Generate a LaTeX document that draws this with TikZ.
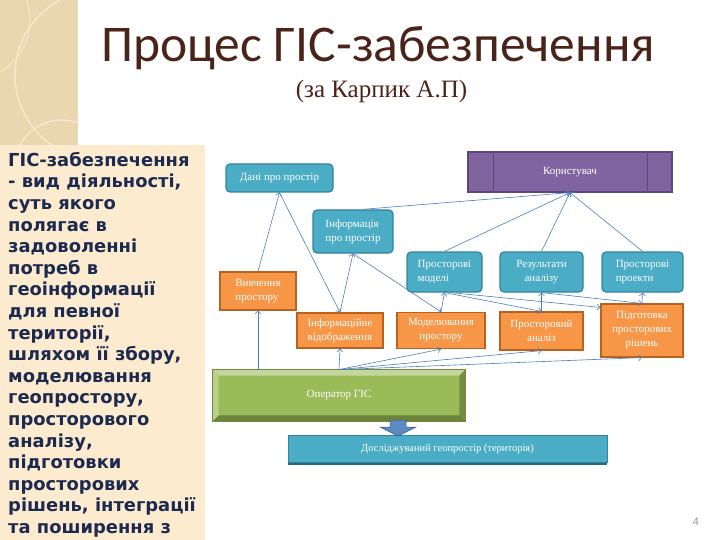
\documentclass[tikz,border=0pt]{standalone}
\usepackage{fontspec}
\setmainfont{Liberation Serif}
\newfontfamily\titlefont{Carlito}
\newfontfamily\boldsans{DejaVu Sans}
\newfontfamily\pagefont{Liberation Sans}
\usetikzlibrary{arrows.meta,calc}
\definecolor{tealF}{HTML}{4BACC6}
\definecolor{tealD}{HTML}{31849B}
\definecolor{orF}{HTML}{F79646}
\definecolor{orD}{HTML}{B7621E}
\definecolor{puF}{HTML}{8064A2}
\definecolor{puD}{HTML}{5C4776}
\definecolor{grF}{HTML}{9BBB59}
\definecolor{grD}{HTML}{71893F}
\definecolor{conn}{HTML}{4A7EBB}
\definecolor{titleC}{HTML}{4A2419}
\definecolor{navy}{HTML}{1B2A4E}
\definecolor{beige}{HTML}{FDEBD0}
\definecolor{strip}{HTML}{EAD7B0}
\definecolor{stripL}{HTML}{F4E8CF}
\begin{document}
\begin{tikzpicture}[x=1pt,y=-1pt,
  lbl/.style={inner sep=0pt, font=\fontsize{11}{14}\selectfont, text=white, line width=1.2pt},
  tbox/.style={lbl, rounded corners=4pt, fill=tealF, draw=tealD},
  obox/.style={lbl, fill=orF, draw=orD},
  arr/.style={draw=conn, line width=0.6pt, -{Straight Barb[length=3pt,width=6pt]}}
]
\useasboundingbox (0,0) rectangle (720,540);
% decorative strip
\fill[strip] (0,0) rectangle (78,145);
\begin{scope}
\clip (0,0) rectangle (78,145);
\draw[stripL, line width=1.5pt] (100,75) circle (85);
\draw[stripL, line width=1.5pt] (62,168) circle (48);
\draw[stripL, line width=1pt] (-30,20) circle (60);
\end{scope}
% left text box
\fill[beige] (0,145) rectangle (205,540);
\node[anchor=north west, inner sep=0pt, align=left, text=navy,
  font=\boldsans\bfseries\fontsize{17.9}{21.6}\selectfont] (desc) at (8,152)
{ГІС-забезпечення\\- вид діяльності,\\суть якого\\полягає в\\задоволенні\\потреб в\\геоінформації\\для певної\\території,\\шляхом її збору,\\моделювання\\геопростору,\\просторового\\аналізу,\\підготовки\\просторових\\рішень, інтеграції\\та поширення з};
% title
\node[anchor=base, inner sep=0pt, text=titleC, font=\titlefont\fontsize{51.5}{55}\selectfont] (title) at (378,62) {Процес ГІС-забезпечення};
\node[anchor=base, inner sep=0pt, text=titleC, font=\fontsize{25}{28}\selectfont] (sub) at (381.5,98) {(за Карпик А.П)};
% nodes
\node[tbox, minimum width=107, minimum height=28] (dani) at (279.5,178) {Дані про простір};
\node[tbox, minimum width=80, minimum height=43, align=left] (infp) at (353,231.5) {Інформація\\про простір};
\node[lbl, fill=puF, draw=puD, minimum width=204, minimum height=40] (kor) at (570,172) {Користувач};
\draw[puD, line width=1.2pt] ([xshift=26]kor.north west) -- ([xshift=26]kor.south west)
  ([xshift=-25]kor.north east) -- ([xshift=-25]kor.south east);
\node[obox, minimum width=76, minimum height=38, align=left] (vyv) at (258,291) {Вивчення\\простору};
\node[obox, minimum width=86, minimum height=35, align=left] (infv) at (340,330.5) {Інформаційне\\відображення};
\node[obox, minimum width=88, minimum height=36, align=center] (model) at (441,330.5) {Моделювання\\простору};
\node[tbox, minimum width=75, minimum height=40, align=left] (pm) at (444.5,272) {Просторові\\моделі};
\node[tbox, minimum width=83, minimum height=40, align=center] (ra) at (541.5,272) {Результати\\аналізу};
\node[tbox, minimum width=81, minimum height=40, align=left] (pp) at (642.5,272) {Просторові\\проекти};
\node[obox, minimum width=83, minimum height=38, align=center] (pa) at (541.5,331) {Просторовий\\аналіз};
\node[obox, minimum width=82, minimum height=53, align=center] (pr) at (642,330.5) {Підготовка\\просторових\\рішень};
% operator with bevel
\node[lbl, fill=grF, draw=grD, line width=0.8pt, minimum width=252, minimum height=51] (op) at (339,395.5) {};
\fill[fill=grF!60!white] (op.north west) -- (op.north east) -- ($(op.north east)+(-6,6)$) -- ($(op.north west)+(6,6)$) -- cycle;
\fill[fill=grF!70!white] (op.north west) -- ($(op.north west)+(6,6)$) -- ($(op.south west)+(6,-6)$) -- (op.south west) -- cycle;
\fill[fill=grF!75!black] (op.north east) -- (op.south east) -- ($(op.south east)+(-6,-6)$) -- ($(op.north east)+(-6,6)$) -- cycle;
\fill[fill=grF!70!black] (op.south west) -- (op.south east) -- ($(op.south east)+(-6,-6)$) -- ($(op.south west)+(6,-6)$) -- cycle;
\draw[grD, line width=0.8pt] (op.north west) rectangle (op.south east);
\node[lbl] (optext) at (op.center) {Оператор ГІС};
% territory
\node[lbl, fill=tealF, draw=tealD, line width=0.8pt, minimum width=319, minimum height=27, font=\fontsize{10.5}{13}\selectfont] (dg) at (447.5,449) {Досліджуваний геопростір (територія)};
\draw[tealD!80!black, line width=1.5pt] ([yshift=-1]dg.south west) -- ([yshift=-1]dg.south east);
% block arrow
\coordinate (ba) at (398,420);
\filldraw[fill=conn!90!white, draw=conn!70!black, line width=0.5pt]
  ($(ba)+(-8,0)$) -- ($(ba)+(8,0)$) -- ($(ba)+(8,7)$) -- ($(ba)+(18,7)$) -- ($(ba)+(0,16)$)
  -- ($(ba)+(-18,7)$) -- ($(ba)+(-8,7)$) -- cycle;
% connectors
\draw[arr] (vyv.north) -- (dani.south);
\draw[arr] (dani.south) -- (infv.north);
\draw[arr] (infv.north) -- (infp.south);
\draw[arr] (infp.south) -- (model.north);
\draw[arr] (model.north) -- (pm.south);
\draw[arr] (pm.south) -- (pa.north);
\draw[arr] ([xshift=6]pm.south) -- ([yshift=-4]pr.north west);
\draw[arr] (pa.north) -- (ra.south);
\draw[arr] (ra.south) -- (pr.north);
\draw[arr] (pr.north) -- (pp.south);
\draw[arr] ([xshift=9]infp.north) -- (kor.south);
\draw[arr] (pm.north) -- (kor.south);
\draw[arr] (ra.north) -- (kor.south);
\draw[arr] (pp.north) -- (kor.south);
\draw[arr] (op.north -| vyv.south) -- (vyv.south);
\draw[arr] (op.north) -- (infv.south);
\draw[arr] (op.north) -- (model.south);
\draw[arr] (op.north) -- (pa.south);
\draw[arr] (op.north) -- (pr.south);
% page number
\node[text=black!40, font=\pagefont\fontsize{11}{13}\selectfont] (pg) at (696,522) {4};
\end{tikzpicture}
\end{document}
